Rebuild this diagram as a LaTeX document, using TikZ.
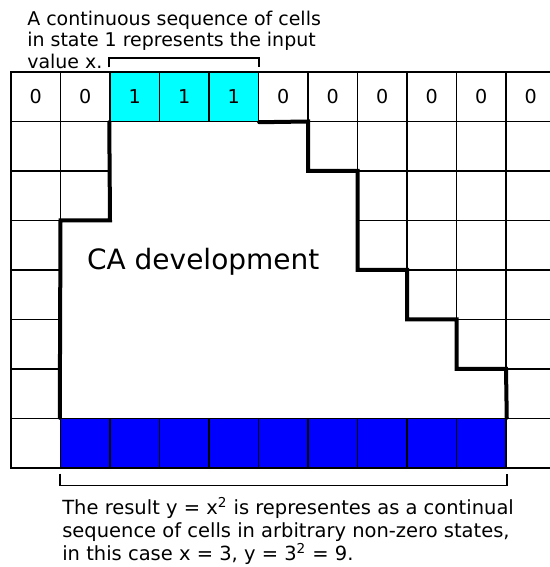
\documentclass[tikz,border=0pt]{standalone}
\usepackage{fontspec}
\setmainfont{DejaVu Sans}
\usetikzlibrary{positioning}
\definecolor{incyan}{RGB}{0,255,255}
\definecolor{outblue}{RGB}{0,0,255}

\begin{document}
\begin{tikzpicture}[x=1cm,y=1cm,
    cell/.style={draw,line width=0.85pt,minimum size=1cm,inner sep=0pt,
      font=\fontsize{11pt}{12.3pt}\selectfont},
    thin/.style={line width=0.85pt},
    edge/.style={line width=2.3pt},
    brace/.style={line width=0.9pt},
    txt/.style={inner sep=0pt,align=left,font=\fontsize{10.9pt}{12.3pt}\selectfont}]
  \useasboundingbox (-0.2222,-2.0) rectangle (10.8687,9.4545);
  \foreach \i/\v/\c in {0/0/white,1/0/white,2/1/incyan,3/1/incyan,4/1/incyan,5/0/white,
      6/0/white,7/0/white,8/0/white,9/0/white,10/0/white}
    \node[cell,fill=\c] (t\i) at (\i+0.5,7.5) {\v};
  \foreach \i in {1,...,9}
    \node[cell,fill=outblue] (b\i) at (\i+0.5,0.5) {};
  \node[cell] (b0) at (0.5,0.5) {};
  \node[cell] (b10) at (10.5,0.5) {};
  \foreach \r/\b in {6/1,5/1,4/0,3/0,2/0,1/0}
    \foreach \c in {0,...,\b}
      \draw[thin] (\c,\r) rectangle ++(1,1);
  \foreach \r/\a in {6/6,5/7,4/7,3/8,2/9,1/10}
    \foreach \c in {\a,...,10}
      \draw[thin] (\c,\r) rectangle ++(1,1);
  \draw[edge,line cap=round] (t2.south west) -- (2,5) -- (1,5) -- (b1.north west);
  \draw[edge,line cap=round] (t4.south east) -- (6,7) -- (6,6) -- (7,6) -- (7,4)
    -- (8,4) -- (8,3) -- (9,3) -- (9,2) -- (10,2) -- (b9.north east);
  \coordinate (xl) at ([yshift=0.08cm]t2.north west);
  \coordinate (xr) at ([yshift=0.08cm]t4.north east);
  \draw[brace] (xl) -- ++(0,0.19) -| (xr);
  \coordinate (yl) at ([yshift=-0.1cm]b1.south west);
  \coordinate (yr) at ([yshift=-0.1cm]b9.south east);
  \draw[brace] (yl) -- ++(0,-0.24) -| (yr);
  \node[txt,anchor=base west] (top) at (0.323,8.08)
    {A continuous sequence of cells\\in state 1 represents the input\\value x.};
  \node[inner sep=0pt,anchor=base west,font=\fontsize{16.1pt}{18pt}\selectfont]
    (ca) at (1.53,4.02) {CA development};
  \node[txt,anchor=base west,font=\fontsize{11.2pt}{13.2pt}\selectfont] (res) at (1.03,-1.859)
    {The result y = x\textsuperscript{2} is representes as a continual\\
     sequence of cells in arbitrary non-zero states,\\
     in this case x = 3, y = 3\textsuperscript{2} = 9.};
\end{tikzpicture}
\end{document}
